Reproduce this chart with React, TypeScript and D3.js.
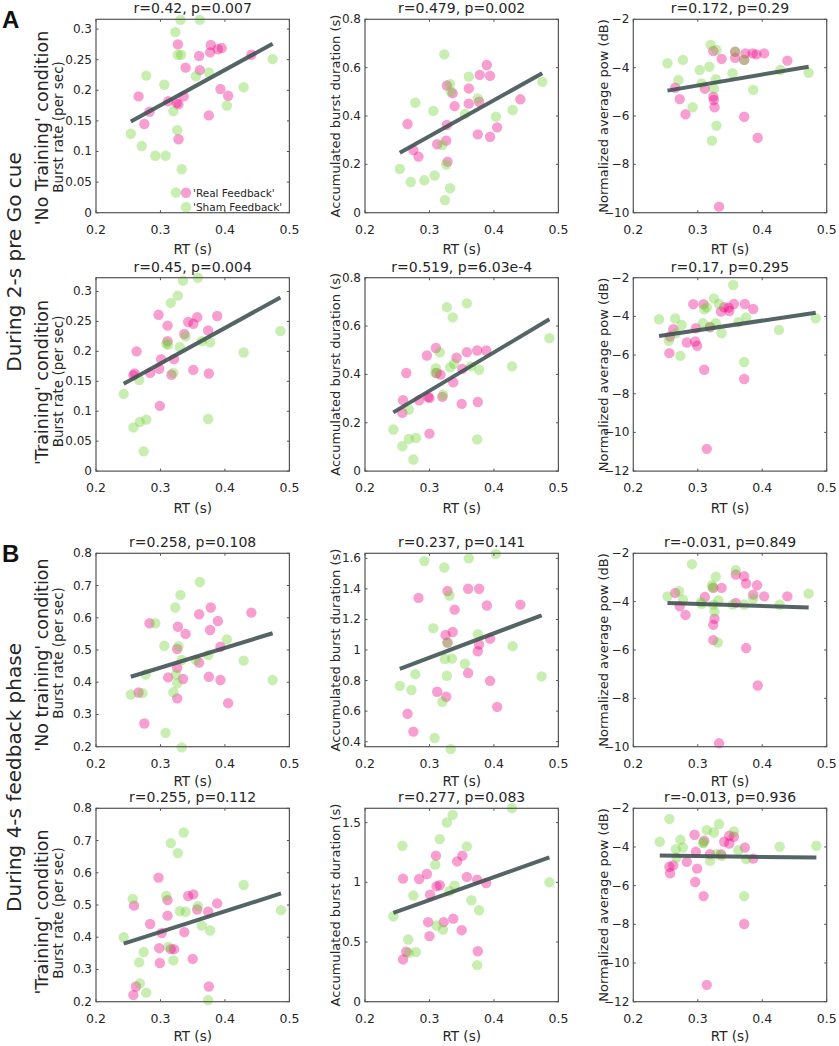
import React from 'react';
import * as d3 from 'd3';

type Pt = [number, number];

// ---------- tick values ----------
const xTickValues = [0.2, 0.3, 0.4, 0.5];
const rateTicksPre = [0, 0.05, 0.1, 0.15, 0.2, 0.25, 0.3];
const durTicksPre = [0, 0.2, 0.4, 0.6, 0.8];
const powTicks10 = [-10, -8, -6, -4, -2];
const powTicks12 = [-12, -10, -8, -6, -4, -2];
const rateTicksFb = [0.2, 0.3, 0.4, 0.5, 0.6, 0.7, 0.8];
const durTicksFbNo = [0.4, 0.6, 0.8, 1, 1.2, 1.4, 1.6];
const durTicksFbTr = [0, 0.5, 1, 1.5];

// ---------- y domains ----------
const domRatePreNo: Pt = [0, 0.316];
const domRatePreTr: Pt = [0, 0.323];
const domDurPre: Pt = [0, 0.8];
const domPow10: Pt = [-10, -2];
const domPow12: Pt = [-12, -2];
const domRateFb: Pt = [0.2, 0.8];
const domDurFbNo: Pt = [0.367, 1.633];
const domDurFbTr: Pt = [0, 1.62];

// ---------- texts ----------
const titles = [
  'r=0.42, p=0.007', 'r=0.479, p=0.002', 'r=0.172, p=0.29',
  'r=0.45, p=0.004', 'r=0.519, p=6.03e-4', 'r=0.17, p=0.295',
  'r=0.258, p=0.108', 'r=0.237, p=0.141', 'r=-0.031, p=0.849',
  'r=0.255, p=0.112', 'r=0.277, p=0.083', 'r=-0.013, p=0.936',
];
const yLabels = ['Burst rate (per sec)', 'Accumulated burst duration (s)', 'Normalized average pow (dB)'];
const conditionLabels = ["'No Training' condition", "'Training' condition", "'No training' condition", "'Training' condition"];
const phaseLabels = ['During 2-s pre Go cue', 'During 4-s feedback phase'];
const panelLetters = ['A', 'B'];
const legendLabels = ["'Real Feedback'", "'Sham Feedback'"];
const xLabel = 'RT (s)';

// ---------- data: [RT, value] ----------
// Row 1: pre Go cue, No Training
const a1Real: Pt[] = [[0.266,0.190],[0.275,0.145],[0.283,0.165],[0.312,0.182],[0.325,0.179],[0.328,0.177],[0.327,0.275],[0.328,0.120],[0.336,0.190],[0.339,0.237],[0.360,0.256],[0.361,0.233],[0.375,0.159],[0.377,0.262],[0.378,0.274],[0.389,0.267],[0.395,0.269],[0.393,0.202],[0.405,0.191],[0.441,0.258]];
const a1Sham: Pt[] = [[0.254,0.129],[0.271,0.109],[0.278,0.224],[0.292,0.093],[0.306,0.209],[0.308,0.093],[0.320,0.166],[0.323,0.295],[0.324,0.033],[0.326,0.135],[0.331,0.315],[0.327,0.258],[0.332,0.258],[0.333,0.071],[0.355,0.223],[0.361,0.315],[0.375,0.229],[0.403,0.175],[0.429,0.205],[0.474,0.251]];
const a2Real: Pt[] = [[0.266,0.367],[0.275,0.259],[0.283,0.232],[0.312,0.283],[0.326,0.298],[0.327,0.363],[0.328,0.211],[0.327,0.526],[0.336,0.494],[0.339,0.441],[0.361,0.514],[0.361,0.451],[0.378,0.570],[0.377,0.459],[0.375,0.324],[0.389,0.611],[0.394,0.566],[0.394,0.314],[0.405,0.353],[0.441,0.469]];
const a2Sham: Pt[] = [[0.254,0.181],[0.271,0.127],[0.278,0.455],[0.292,0.134],[0.308,0.154],[0.306,0.421],[0.323,0.655],[0.320,0.280],[0.326,0.199],[0.324,0.052],[0.332,0.532],[0.333,0.501],[0.332,0.101],[0.355,0.408],[0.361,0.563],[0.375,0.473],[0.403,0.397],[0.429,0.425],[0.475,0.541]];
const a3Real: Pt[] = [[0.265,-4.83],[0.272,-5.30],[0.281,-5.93],[0.311,-4.87],[0.324,-3.31],[0.324,-5.20],[0.325,-5.34],[0.326,-5.64],[0.337,-3.64],[0.333,-9.75],[0.358,-3.59],[0.358,-3.34],[0.374,-3.41],[0.372,-6.03],[0.385,-3.41],[0.391,-3.45],[0.403,-3.41],[0.393,-6.90],[0.439,-3.71],[0.372,-3.68]];
const a3Sham: Pt[] = [[0.253,-3.82],[0.277,-3.68],[0.270,-4.51],[0.292,-5.64],[0.303,-4.10],[0.306,-4.65],[0.318,-3.96],[0.320,-3.06],[0.325,-4.86],[0.328,-4.48],[0.329,-3.27],[0.322,-7.02],[0.329,-6.40],[0.354,-4.23],[0.358,-3.34],[0.372,-3.68],[0.386,-4.92],[0.428,-4.10],[0.472,-4.21]];
// Row 2: pre Go cue, Training
const a4Real: Pt[] = [[0.258,0.160],[0.260,0.163],[0.263,0.200],[0.284,0.164],[0.297,0.261],[0.298,0.171],[0.301,0.187],[0.299,0.109],[0.311,0.243],[0.311,0.217],[0.317,0.161],[0.321,0.187],[0.337,0.229],[0.343,0.249],[0.351,0.246],[0.357,0.257],[0.351,0.169],[0.374,0.235],[0.375,0.163],[0.388,0.259]];
const a4Sham: Pt[] = [[0.243,0.129],[0.258,0.073],[0.267,0.152],[0.268,0.082],[0.278,0.086],[0.274,0.033],[0.309,0.213],[0.316,0.281],[0.327,0.293],[0.335,0.318],[0.358,0.323],[0.330,0.207],[0.320,0.164],[0.339,0.225],[0.364,0.217],[0.377,0.215],[0.374,0.087],[0.429,0.198],[0.486,0.234],[0.312,0.211]];
const a5Real: Pt[] = [[0.259,0.293],[0.258,0.241],[0.264,0.406],[0.284,0.293],[0.296,0.478],[0.298,0.307],[0.300,0.302],[0.300,0.155],[0.310,0.509],[0.311,0.406],[0.317,0.399],[0.320,0.307],[0.337,0.367],[0.342,0.469],[0.351,0.423],[0.358,0.492],[0.350,0.278],[0.374,0.499],[0.375,0.286],[0.388,0.499]];
const a5Sham: Pt[] = [[0.244,0.172],[0.258,0.103],[0.268,0.254],[0.268,0.133],[0.279,0.137],[0.275,0.048],[0.310,0.426],[0.316,0.491],[0.327,0.678],[0.336,0.636],[0.358,0.694],[0.332,0.429],[0.321,0.316],[0.338,0.444],[0.364,0.433],[0.377,0.419],[0.374,0.131],[0.428,0.433],[0.486,0.550],[0.309,0.406]];
const a6Real: Pt[] = [[0.256,-5.90],[0.257,-5.04],[0.262,-4.66],[0.283,-5.35],[0.293,-3.37],[0.296,-5.30],[0.297,-4.61],[0.299,-5.52],[0.309,-3.37],[0.310,-6.76],[0.319,-4.56],[0.314,-10.85],[0.336,-3.75],[0.341,-3.53],[0.349,-3.72],[0.348,-3.55],[0.356,-3.36],[0.373,-3.36],[0.386,-3.62],[0.372,-7.24]];
const a6Sham: Pt[] = [[0.240,-4.15],[0.255,-5.26],[0.265,-4.11],[0.266,-4.87],[0.275,-4.44],[0.273,-6.04],[0.308,-4.35],[0.310,-3.63],[0.325,-3.07],[0.333,-3.36],[0.355,-2.38],[0.328,-4.35],[0.319,-4.53],[0.337,-4.87],[0.363,-4.30],[0.375,-4.06],[0.372,-6.36],[0.426,-4.70],[0.483,-4.10],[0.314,-3.53]];
// Row 3: feedback phase, No training
const b1Real: Pt[] = [[0.266,0.368],[0.275,0.272],[0.283,0.583],[0.312,0.415],[0.326,0.503],[0.326,0.445],[0.326,0.350],[0.335,0.410],[0.339,0.550],[0.327,0.572],[0.360,0.611],[0.360,0.461],[0.378,0.632],[0.377,0.562],[0.375,0.417],[0.389,0.590],[0.393,0.510],[0.393,0.407],[0.405,0.335],[0.441,0.616]];
const b1Sham: Pt[] = [[0.254,0.362],[0.272,0.366],[0.277,0.424],[0.292,0.583],[0.306,0.513],[0.308,0.243],[0.323,0.632],[0.331,0.671],[0.361,0.711],[0.328,0.512],[0.333,0.469],[0.320,0.369],[0.324,0.424],[0.326,0.397],[0.333,0.198],[0.355,0.469],[0.374,0.484],[0.403,0.533],[0.429,0.467],[0.474,0.407]];
const b2Real: Pt[] = [[0.266,0.583],[0.275,0.466],[0.283,1.341],[0.312,0.727],[0.326,0.694],[0.325,1.098],[0.328,1.048],[0.328,1.386],[0.336,1.118],[0.339,1.264],[0.360,1.401],[0.360,0.849],[0.377,1.401],[0.377,1.036],[0.375,0.992],[0.389,1.291],[0.394,1.074],[0.394,0.798],[0.405,0.628],[0.441,1.297]];
const b2Sham: Pt[] = [[0.254,0.765],[0.272,0.738],[0.278,0.842],[0.292,1.582],[0.306,1.143],[0.308,0.424],[0.323,1.540],[0.361,1.600],[0.327,0.831],[0.324,0.941],[0.335,0.944],[0.331,1.357],[0.328,1.048],[0.320,0.661],[0.333,0.351],[0.355,0.910],[0.375,1.103],[0.403,1.629],[0.429,1.025],[0.474,0.827]];
const b3Real: Pt[] = [[0.265,-3.64],[0.272,-4.19],[0.281,-4.55],[0.311,-3.81],[0.324,-3.43],[0.326,-4.71],[0.324,-4.96],[0.324,-5.59],[0.337,-3.43],[0.333,-9.86],[0.359,-2.88],[0.359,-4.05],[0.372,-2.95],[0.375,-3.25],[0.375,-5.92],[0.386,-3.71],[0.392,-3.32],[0.403,-3.78],[0.393,-7.47],[0.439,-3.78]];
const b3Sham: Pt[] = [[0.253,-3.78],[0.271,-3.57],[0.277,-3.92],[0.291,-2.45],[0.305,-4.02],[0.306,-4.09],[0.324,-4.13],[0.328,-2.97],[0.322,-3.32],[0.323,-3.41],[0.326,-4.41],[0.332,-3.95],[0.331,-5.69],[0.359,-2.70],[0.354,-4.12],[0.372,-4.12],[0.386,-3.88],[0.427,-4.13],[0.472,-3.67]];
// Row 4: feedback phase, Training
const b4Real: Pt[] = [[0.258,0.221],[0.259,0.498],[0.262,0.247],[0.284,0.441],[0.297,0.585],[0.298,0.366],[0.299,0.320],[0.302,0.413],[0.311,0.515],[0.311,0.467],[0.316,0.363],[0.321,0.363],[0.337,0.416],[0.343,0.528],[0.351,0.533],[0.357,0.486],[0.350,0.333],[0.374,0.479],[0.375,0.247],[0.388,0.505]];
const b4Sham: Pt[] = [[0.243,0.400],[0.257,0.519],[0.268,0.257],[0.267,0.322],[0.274,0.354],[0.278,0.228],[0.309,0.528],[0.316,0.692],[0.327,0.661],[0.336,0.725],[0.330,0.481],[0.339,0.479],[0.312,0.370],[0.320,0.328],[0.358,0.496],[0.364,0.436],[0.377,0.421],[0.374,0.205],[0.429,0.562],[0.487,0.484]];
const b5Real: Pt[] = [[0.259,0.354],[0.264,0.418],[0.259,1.031],[0.284,1.028],[0.296,1.070],[0.298,0.666],[0.300,0.549],[0.301,0.897],[0.310,1.223],[0.311,0.967],[0.316,0.975],[0.322,0.666],[0.337,0.696],[0.343,1.175],[0.351,1.223],[0.358,1.045],[0.350,0.599],[0.374,1.022],[0.375,0.423],[0.388,0.994]];
const b5Sham: Pt[] = [[0.244,0.716],[0.258,1.306],[0.267,0.521],[0.268,0.409],[0.279,0.415],[0.275,0.889],[0.309,1.148],[0.316,1.362],[0.327,1.501],[0.336,1.565],[0.358,1.301],[0.311,0.638],[0.321,0.604],[0.331,0.925],[0.339,0.972],[0.365,0.850],[0.377,0.766],[0.374,0.306],[0.428,1.621],[0.486,1.000]];
const b6Real: Pt[] = [[0.256,-5.02],[0.257,-5.36],[0.262,-4.95],[0.283,-4.77],[0.295,-3.37],[0.297,-4.25],[0.296,-5.81],[0.299,-5.12],[0.309,-6.54],[0.310,-3.68],[0.319,-4.37],[0.314,-11.13],[0.336,-4.37],[0.341,-3.73],[0.349,-3.42],[0.349,-3.82],[0.356,-3.47],[0.373,-4.03],[0.386,-4.60],[0.372,-7.98]];
const b6Sham: Pt[] = [[0.241,-3.73],[0.256,-2.55],[0.266,-4.11],[0.267,-4.55],[0.273,-3.63],[0.277,-4.03],[0.308,-3.80],[0.314,-3.13],[0.325,-3.25],[0.333,-2.81],[0.356,-3.20],[0.309,-3.77],[0.319,-4.72],[0.337,-4.46],[0.363,-4.17],[0.375,-4.63],[0.372,-6.54],[0.427,-3.98],[0.484,-3.94],[0.329,-4.37]];

// fitted line values at the smallest and largest RT of each panel
const fitA1: Pt = [0.149, 0.276];
const fitA2: Pt = [0.248, 0.577];
const fitA3: Pt = [-4.95, -3.96];
const fitA4: Pt = [0.146, 0.290];
const fitA5: Pt = [0.243, 0.628];
const fitA6: Pt = [-5.01, -3.81];
const fitB1: Pt = [0.417, 0.552];
const fitB2: Pt = [0.877, 1.227];
const fitB3: Pt = [-4.06, -4.24];
const fitB4: Pt = [0.380, 0.536];
const fitB5: Pt = [0.744, 1.209];
const fitB6: Pt = [-4.44, -4.55];

// ---------- panel table built from the arrays above ----------
const panels = [
  { real: a1Real, sham: a1Sham, fit: fitA1, dom: domRatePreNo, ticks: rateTicksPre },
  { real: a2Real, sham: a2Sham, fit: fitA2, dom: domDurPre, ticks: durTicksPre },
  { real: a3Real, sham: a3Sham, fit: fitA3, dom: domPow10, ticks: powTicks10 },
  { real: a4Real, sham: a4Sham, fit: fitA4, dom: domRatePreTr, ticks: rateTicksPre },
  { real: a5Real, sham: a5Sham, fit: fitA5, dom: domDurPre, ticks: durTicksPre },
  { real: a6Real, sham: a6Sham, fit: fitA6, dom: domPow12, ticks: powTicks12 },
  { real: b1Real, sham: b1Sham, fit: fitB1, dom: domRateFb, ticks: rateTicksFb },
  { real: b2Real, sham: b2Sham, fit: fitB2, dom: domDurFbNo, ticks: durTicksFbNo },
  { real: b3Real, sham: b3Sham, fit: fitB3, dom: domPow10, ticks: powTicks10 },
  { real: b4Real, sham: b4Sham, fit: fitB4, dom: domRateFb, ticks: rateTicksFb },
  { real: b5Real, sham: b5Sham, fit: fitB5, dom: domDurFbTr, ticks: durTicksFbTr },
  { real: b6Real, sham: b6Sham, fit: fitB6, dom: domPow12, ticks: powTicks12 },
];

// ---------- layout ----------
const W = 193.4;
const H = 193.4;
const colLeft = [96, 365, 633.3];
const rowTop = [19.3, 277.7, 553.3, 808.3];
const yLabelX = [58, 335, 603];
const xLabelGap = [36.5, 36.5, 34, 34];
const condShift = [12, 8, 5, 7];
const rateLabelShift = [11, 7, 3, 8];
const FONT = '"DejaVu Sans", Verdana, sans-serif';
const TEXT = '#262626';
const AXIS = '#555555';
const PINK = 'rgb(236,0,135)';
const GREEN = 'rgb(110,210,50)';
const FIT = 'rgb(62,78,78)';
const R = 5.2;

const fmtTick = (t: number) => String(t).replace('-', '\u2212');

function Panel({ idx }: { idx: number }) {
  const p = panels[idx];
  const row = Math.floor(idx / 3);
  const col = idx % 3;
  const left = colLeft[col];
  const top = rowTop[row];
  const x = d3.scaleLinear().domain([0.2, 0.5]).range([left, left + W]);
  const y = d3.scaleLinear().domain(p.dom).range([top + H, top]);
  const all = [...p.real, ...p.sham];
  const ext = d3.extent(all, (d) => d[0]) as [number, number];
  const line = d3.line<Pt>().x((d) => x(d[0])).y((d) => y(d[1]));
  const fitPath = line([[ext[0], p.fit[0]], [ext[1], p.fit[1]]]) || '';
  const tl = 2.5;
  const cy = top + H / 2;
  const ylShift = col === 0 ? rateLabelShift[row] : 0;
  return (
    <g>
      {p.real.map((d, i) => (
        <circle key={'r' + i} cx={x(d[0])} cy={y(d[1])} r={R} fill={PINK} fillOpacity={0.38} />
      ))}
      {p.sham.map((d, i) => (
        <circle key={'s' + i} cx={x(d[0])} cy={y(d[1])} r={R} fill={GREEN} fillOpacity={0.38} />
      ))}
      <path d={fitPath} stroke={FIT} strokeWidth={4} strokeOpacity={0.88} fill="none" />
      <rect x={left} y={top} width={W} height={H} fill="none" stroke={AXIS} strokeWidth={1.2} />
      {xTickValues.map((t) => (
        <g key={'xt' + t}>
          <line x1={x(t)} x2={x(t)} y1={top + H} y2={top + H - tl} stroke={AXIS} />
          <line x1={x(t)} x2={x(t)} y1={top} y2={top + tl} stroke={AXIS} />
          <text x={x(t)} y={top + H + 16.5} textAnchor="middle" dominantBaseline="central" fontSize={12.5} fill={TEXT}>{fmtTick(t)}</text>
        </g>
      ))}
      {p.ticks.map((t) => (
        <g key={'yt' + t}>
          <line x1={left} x2={left + tl} y1={y(t)} y2={y(t)} stroke={AXIS} />
          <line x1={left + W} x2={left + W - tl} y1={y(t)} y2={y(t)} stroke={AXIS} />
          <text x={left - 4} y={y(t)} textAnchor="end" dominantBaseline="central" fontSize={12} fill={TEXT}>{fmtTick(t)}</text>
        </g>
      ))}
      <text x={left + W / 2} y={top - 11} textAnchor="middle" dominantBaseline="central" fontSize={14} fill={TEXT}>{titles[idx]}</text>
      <text x={left + W / 2} y={top + H + xLabelGap[row]} textAnchor="middle" dominantBaseline="central" fontSize={13.5} fill={TEXT}>{xLabel}</text>
      <text transform={`translate(${yLabelX[col]},${cy + ylShift}) rotate(-90)`} textAnchor="middle" dominantBaseline="central" fontSize={col === 0 ? 13.5 : 13} fill={TEXT}>{yLabels[col]}</text>
      {col === 0 && (
        <text transform={`translate(42,${cy + condShift[row]}) rotate(-90)`} textAnchor="middle" dominantBaseline="central" fontSize={17.5} fill={TEXT}>{conditionLabels[row]}</text>
      )}
      {idx === 0 && (
        <g>
          {[PINK, GREEN].map((c, i) => (
            <g key={'lg' + i}>
              <circle cx={left + 90} cy={top + 173.5 + i * 14.5} r={R} fill={c} fillOpacity={0.38} />
              <text x={left + 97} y={top + 173.5 + i * 14.5} dominantBaseline="central" fontSize={10.5} fill={TEXT}>{legendLabels[i]}</text>
            </g>
          ))}
        </g>
      )}
    </g>
  );
}

export default function App() {
  const phaseY = [262, (rowTop[2] + rowTop[3] + H) / 2];
  return (
    <svg width={839} height={1046} style={{ position: 'absolute', left: 0, top: 0, background: '#fff' }} fontFamily={FONT}>
      <rect x={0} y={0} width={839} height={1046} fill="#fff" />
      {panels.map((_, i) => (
        <Panel key={i} idx={i} />
      ))}
      {phaseLabels.map((t, i) => (
        <text key={t} transform={`translate(14,${phaseY[i]}) rotate(-90)`} textAnchor="middle" dominantBaseline="central" fontSize={20} fill={TEXT}>{t}</text>
      ))}
      {panelLetters.map((t, i) => (
        <text key={t} x={2} y={i === 0 ? 28 : 562} fontSize={24} fontWeight="bold" fontFamily="Liberation Sans, Arial, sans-serif" fill="#111">{t}</text>
      ))}
    </svg>
  );
}
